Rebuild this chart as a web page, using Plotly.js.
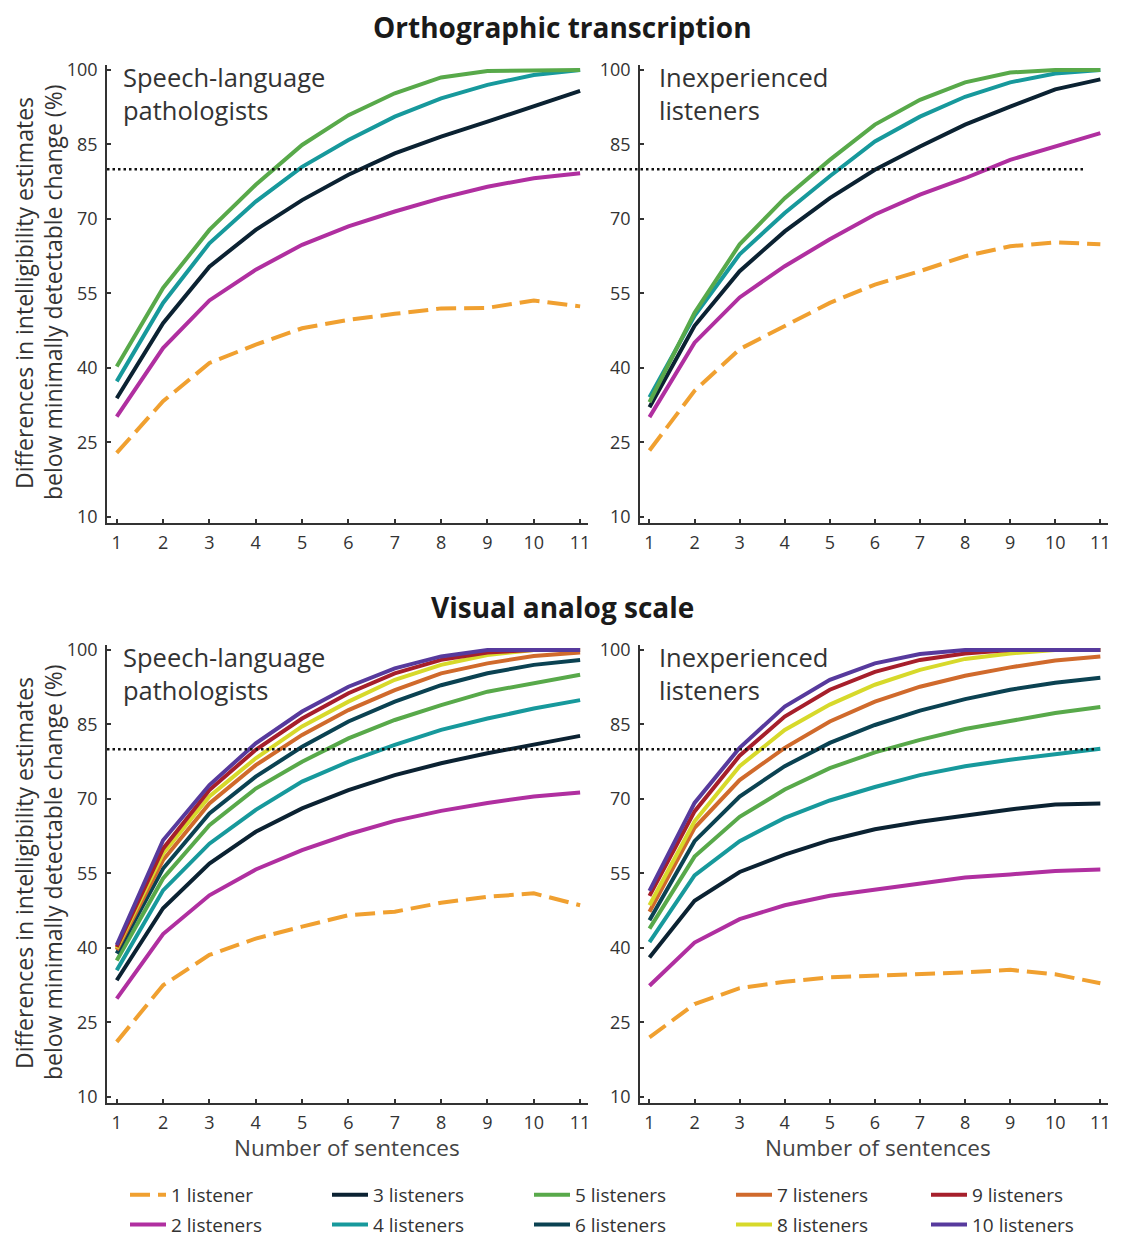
<!DOCTYPE html>
<html><head><meta charset="utf-8">
<script src="https://cdn.plot.ly/plotly-3.0.1.min.js"></script>
<style>body{margin:0;background:#fff}#chart{width:1125px;height:1239px}</style>
</head><body><div id="chart"></div>
<script>
const sentences = [1,2,3,4,5,6,7,8,9,10,11];
const xTickLabels = ['1','2','3','4','5','6','7','8','9','10','11'];
const yTickVals = [10,25,40,55,70,85,100];
const mdcThreshold = 80;
const listenerLabels = ['1 listener','2 listeners','3 listeners','4 listeners','5 listeners',
  '6 listeners','7 listeners','8 listeners','9 listeners','10 listeners'];

// Orthographic transcription – speech-language pathologists (1–5 listeners)
const orthoSLP = [
  [22.9,33.3,41.0,44.7,48.0,49.7,50.9,52.0,52.1,53.6,52.4],
  [30.2,44.0,53.6,59.8,64.8,68.5,71.5,74.2,76.5,78.2,79.2],
  [33.9,49.0,60.4,67.8,73.8,78.9,83.2,86.6,89.6,92.6,95.8],
  [37.3,53.1,65.1,73.5,80.5,85.9,90.6,94.3,97.0,99.0,100],
  [40.3,56.1,67.8,76.9,84.9,90.9,95.3,98.5,99.8,100,100]
];
// Orthographic transcription – inexperienced listeners (1–5 listeners)
const orthoInexp = [
  [23.4,35.4,43.8,48.5,53.1,56.8,59.5,62.5,64.5,65.3,64.9],
  [30.1,45.1,54.2,60.5,65.9,70.9,74.9,78.2,81.9,84.6,87.3],
  [32.1,48.5,59.5,67.5,74.2,79.9,84.6,89.0,92.6,96.1,98.1],
  [34.1,50.5,62.9,71.2,78.6,85.6,90.6,94.6,97.5,99.3,100],
  [33.1,51.1,64.9,74.2,81.9,89.0,94.0,97.5,99.5,100,100]
];
// Visual analog scale – speech-language pathologists (1–10 listeners)
const vasSLP = [
  [21.1,32.5,38.6,41.9,44.3,46.6,47.3,49.1,50.3,51.0,48.6],
  [29.8,42.8,50.6,55.8,59.7,62.9,65.6,67.6,69.2,70.5,71.3],
  [33.5,48.0,57.0,63.4,68.1,71.8,74.8,77.2,79.2,80.9,82.7],
  [35.5,51.6,61.0,67.8,73.5,77.5,80.9,83.9,86.2,88.2,89.9],
  [37.5,54.0,64.7,72.1,77.5,82.2,85.9,88.9,91.6,93.4,95.0],
  [38.9,56.0,67.1,74.5,80.5,85.6,89.6,92.9,95.3,97.0,98.0],
  [39.6,57.7,69.1,76.8,82.9,87.9,91.9,95.3,97.3,98.8,99.5],
  [39.9,59.0,70.5,78.2,84.6,89.6,94.0,97.0,99.0,100,100],
  [40.2,60.0,71.8,79.9,86.2,91.3,95.3,98.0,99.5,100,100],
  [40.6,61.7,72.8,81.2,87.6,92.6,96.3,98.7,100,100,100]
];
// Visual analog scale – inexperienced listeners (1–10 listeners)
const vasInexp = [
  [22.0,28.7,31.9,33.2,34.1,34.4,34.7,35.1,35.6,34.7,32.9],
  [32.4,41.1,45.8,48.6,50.5,51.8,53.1,54.2,54.8,55.5,55.8],
  [38.1,49.5,55.3,58.8,61.7,63.9,65.4,66.7,67.9,68.9,69.1],
  [41.2,54.6,61.5,66.2,69.7,72.4,74.8,76.6,77.9,79.1,80.1],
  [43.9,58.4,66.4,71.9,76.2,79.4,81.9,84.1,85.7,87.3,88.5],
  [45.6,61.5,70.5,76.6,81.3,84.9,87.8,90.1,92.0,93.4,94.4],
  [47.3,64.2,73.8,80.3,85.6,89.6,92.6,94.8,96.5,97.9,98.7],
  [48.6,65.5,76.6,83.9,89.0,93.0,96.0,98.2,99.3,100,100],
  [50.5,67.5,78.7,86.6,92.0,95.6,98.0,99.3,100,100,100],
  [51.5,69.2,80.3,88.6,94.0,97.3,99.2,100,100,100,100]
];

const colors = ['#F0A030','#B02FA0','#0B2232','#17999C','#58A94A',
  '#0B4252','#D06A2C','#D7D92B','#A61F2B','#573A9D'];

const W = 1125, H = 1239;
const px = v => v / W;
const py = v => 1 - v / H;

const panels = [
  {data: orthoSLP,  xa: 'x',  ya: 'y',  legend: false},
  {data: orthoInexp, xa: 'x2', ya: 'y2', legend: false},
  {data: vasSLP,    xa: 'x3', ya: 'y3', legend: true},
  {data: vasInexp,  xa: 'x4', ya: 'y4', legend: false}
];

const traces = [];
panels.forEach(p => {
  p.data.forEach((vals, i) => {
    const lg = Math.floor(i / 2) + 1;
    traces.push({
      type: 'scatter', mode: 'lines',
      x: sentences, y: vals,
      xaxis: p.xa, yaxis: p.ya,
      name: listenerLabels[i],
      legendgroup: 'g' + i,
      line: {color: colors[i], width: 4, dash: i === 0 ? '20px,8px' : 'solid'},
      showlegend: p.legend,
      legend: lg === 1 ? 'legend' : 'legend' + lg,
      hoverinfo: 'x+y+name'
    });
  });
});

const fontFam = '"Open Sans", "Noto Sans", sans-serif';
const xRange = [0.79, 11.17];
const yRange = [8.85, 101];
function xAxis(d0, d1, anchor) {
  return {domain: [px(d0), px(d1)], range: xRange, anchor: anchor, automargin: false,
    tickvals: sentences, ticktext: xTickLabels, ticks: 'inside', ticklen: 4, tickwidth: 1.5,
    tickcolor: '#333', showline: true, linecolor: '#333', linewidth: 1.5, ticklabelstandoff: 3,
    showgrid: false, zeroline: false, tickfont: {size: 18, color: '#333', family: fontFam}};
}
function yAxis(t, b, anchor) {
  return {domain: [py(b), py(t)], range: yRange, anchor: anchor, automargin: false,
    tickvals: yTickVals, ticks: 'inside', ticklen: 4, tickwidth: 1.5,
    tickcolor: '#333', showline: true, linecolor: '#333', linewidth: 1.5, ticklabelstandoff: 4,
    showgrid: false, zeroline: false, tickfont: {size: 18, color: '#333', family: fontFam}};
}

const legendBase = {orientation: 'v', xanchor: 'left', yanchor: 'top', y: py(1176),
  bgcolor: 'rgba(0,0,0,0)', tracegroupgap: 2, itemwidth: 36,
  font: {size: 19, color: '#333', family: fontFam}};
const legendX = [125, 327, 529, 731, 926];

const yTitle1 = 'Differences in intelligibility estimates';
const yTitle2 = 'below minimally detectable change (%)';
const ann = (text, x, y, opts) => Object.assign({text: text, x: x, y: y, xref: 'paper', yref: 'paper',
  showarrow: false}, opts);
const yTitleFont = {size: 23, color: '#333', family: fontFam};

const layout = {
  width: W, height: H,
  margin: {l: 0, r: 0, t: 0, b: 0, autoexpand: false},
  paper_bgcolor: '#fff', plot_bgcolor: '#fff',
  font: {family: fontFam, color: '#333'},
  xaxis: xAxis(107, 588, 'y'),
  yaxis: yAxis(65, 522.7, 'x'),
  xaxis2: xAxis(640, 1108, 'y2'),
  yaxis2: yAxis(65, 522.7, 'x2'),
  xaxis3: xAxis(107, 588, 'y3'),
  yaxis3: yAxis(645, 1102.7, 'x3'),
  xaxis4: xAxis(640, 1108, 'y4'),
  yaxis4: yAxis(645, 1102.7, 'x4'),
  legend: Object.assign({}, legendBase, {x: px(legendX[0])}),
  legend2: Object.assign({}, legendBase, {x: px(legendX[1])}),
  legend3: Object.assign({}, legendBase, {x: px(legendX[2])}),
  legend4: Object.assign({}, legendBase, {x: px(legendX[3])}),
  legend5: Object.assign({}, legendBase, {x: px(legendX[4])}),
  shapes: [
    {type: 'line', xref: 'paper', yref: 'y', x0: px(107), x1: px(1084), y0: mdcThreshold, y1: mdcThreshold,
      line: {color: '#111', width: 2.5, dash: '2.5px,3px'}},
    {type: 'line', xref: 'paper', yref: 'y3', x0: px(107), x1: px(1094), y0: mdcThreshold, y1: mdcThreshold,
      line: {color: '#111', width: 2.5, dash: '2.5px,3px'}}
  ],
  annotations: [
    ann('<b>Orthographic transcription</b>', px(562), py(27), {xanchor: 'center', yanchor: 'middle',
      font: {size: 28, color: '#1a1a1a', family: fontFam}}),
    ann('<b>Visual analog scale</b>', px(562), py(607), {xanchor: 'center', yanchor: 'middle',
      font: {size: 28, color: '#1a1a1a', family: fontFam}}),
    ann('Speech-language<br>pathologists', px(121), py(93), {xanchor: 'left', yanchor: 'middle', align: 'left',
      font: {size: 25.5, color: '#333', family: fontFam}}),
    ann('Inexperienced<br>listeners', px(657), py(93), {xanchor: 'left', yanchor: 'middle', align: 'left',
      font: {size: 25.5, color: '#333', family: fontFam}}),
    ann('Speech-language<br>pathologists', px(121), py(673), {xanchor: 'left', yanchor: 'middle', align: 'left',
      font: {size: 25.5, color: '#333', family: fontFam}}),
    ann('Inexperienced<br>listeners', px(657), py(673), {xanchor: 'left', yanchor: 'middle', align: 'left',
      font: {size: 25.5, color: '#333', family: fontFam}}),
    ann(yTitle1, px(24), py(293), {xanchor: 'center', yanchor: 'middle', textangle: -90, font: yTitleFont}),
    ann(yTitle2, px(53), py(293), {xanchor: 'center', yanchor: 'middle', textangle: -90, font: yTitleFont}),
    ann(yTitle1, px(24), py(873), {xanchor: 'center', yanchor: 'middle', textangle: -90, font: yTitleFont}),
    ann(yTitle2, px(53), py(873), {xanchor: 'center', yanchor: 'middle', textangle: -90, font: yTitleFont}),
    ann('Number of sentences', px(347), py(1147), {xanchor: 'center', yanchor: 'middle',
      font: {size: 22.5, color: '#444', family: fontFam}}),
    ann('Number of sentences', px(878), py(1147), {xanchor: 'center', yanchor: 'middle',
      font: {size: 22.5, color: '#444', family: fontFam}})
  ]
};

Plotly.newPlot('chart', traces, layout, {displayModeBar: false});
</script>
</body></html>
